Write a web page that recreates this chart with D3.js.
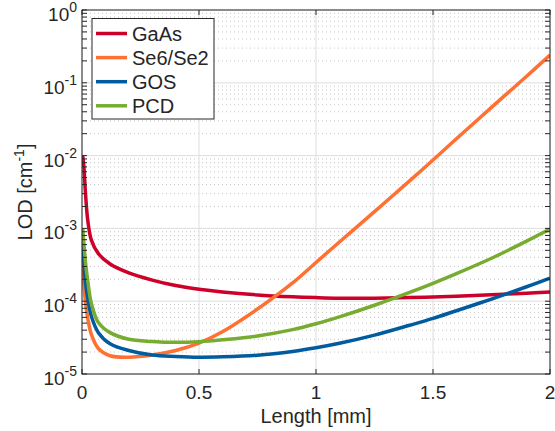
<!DOCTYPE html>
<meta charset="utf-8">
<script src="https://d3js.org/d3.v7.min.js"></script>
<style>
  body { margin: 0; background: #fff; }
  text { font-family: "Liberation Sans", Arial, Helvetica, sans-serif; fill: #262626; }
</style>
<div id="chart"></div>
<script>
// thickness in mm
var lengthMm = [0.003, 0.008, 0.015, 0.025, 0.04, 0.07, 0.12, 0.2, 0.3, 0.4, 0.5, 0.6, 0.75, 0.9, 1.0, 1.1, 1.25, 1.4, 1.5, 1.6, 1.75, 1.9, 2.0]

var gaas = [1.0e-2, 7.1e-3, 3.0e-3, 1.26e-3, 6.9e-4, 4.5e-4, 3.24e-4, 2.45e-4, 1.95e-4, 1.64e-4, 1.46e-4, 1.34e-4, 1.22e-4, 1.15e-4, 1.12e-4, 1.10e-4, 1.10e-4, 1.12e-4, 1.14e-4, 1.17e-4, 1.23e-4, 1.29e-4, 1.34e-4]
var se = [3.2e-4, 1.66e-4, 9.5e-5, 5.75e-5, 3.5e-5, 2.24e-5, 1.78e-5, 1.70e-5, 1.82e-5, 2.1e-5, 2.66e-5, 3.8e-5, 7.8e-5, 1.78e-4, 3.4e-4, 6.5e-4, 1.7e-3, 4.5e-3, 8.7e-3, 1.7e-2, 4.6e-2, 0.123, 0.24]
var gos = [6.3e-4, 3.4e-4, 1.78e-4, 1.07e-4, 6.2e-5, 3.7e-5, 2.6e-5, 2.1e-5, 1.82e-5, 1.74e-5, 1.70e-5, 1.72e-5, 1.81e-5, 2.04e-5, 2.29e-5, 2.64e-5, 3.42e-5, 4.67e-5, 5.8e-5, 7.4e-5, 1.07e-4, 1.58e-4, 2.08e-4]
var pcd = [1.0e-3, 6.3e-4, 3.4e-4, 1.86e-4, 9.3e-5, 5.1e-5, 3.7e-5, 3.0e-5, 2.8e-5, 2.72e-5, 2.78e-5, 2.95e-5, 3.33e-5, 4.07e-5, 4.9e-5, 6.1e-5, 8.8e-5, 1.32e-4, 1.76e-4, 2.39e-4, 3.89e-4, 6.7e-4, 9.8e-4]

var names = ["GaAs", "Se6/Se2", "GOS", "PCD"]
var colors = ["#cc0029", "#ff7033", "#005c9f", "#77ac30"]

var xTicks = [0, 0.5, 1, 1.5, 2]
var yExps = [-5, -4, -3, -2, -1, 0]

var width = 555, height = 431
var pl = 82, pr = 550, pt = 10, pb = 374

var svg = d3.select("#chart").append("svg")
    .attr("width", width)
    .attr("height", height)

var x = d3.scaleLinear().domain([0, 2]).range([pl, pr])
var y = d3.scaleLog().domain([1e-5, 1]).range([pb, pt])

// minor y values (2..9 in each decade)
var minorY = []
yExps.slice(0, -1).forEach(function(e) {
  for (var k = 2; k <= 9; k++) minorY.push(k * Math.pow(10, e))
})

var grid = svg.append("g")
grid.selectAll(".minor")
  .data(minorY)
  .enter().append("line")
    .attr("x1", pl).attr("x2", pr)
    .attr("y1", function(d) { return y(d) }).attr("y2", function(d) { return y(d) })
    .attr("stroke", "#b8b8b8")
    .attr("stroke-width", 0.8)
    .attr("stroke-dasharray", "1,3")
grid.selectAll(".majy")
  .data(yExps)
  .enter().append("line")
    .attr("x1", pl).attr("x2", pr)
    .attr("y1", function(d) { return y(Math.pow(10, d)) }).attr("y2", function(d) { return y(Math.pow(10, d)) })
    .attr("stroke", "#dedede")
    .attr("stroke-width", 1)
grid.selectAll(".majx")
  .data(xTicks)
  .enter().append("line")
    .attr("x1", function(d) { return x(d) }).attr("x2", function(d) { return x(d) })
    .attr("y1", pt).attr("y2", pb)
    .attr("stroke", "#dedede")
    .attr("stroke-width", 1)

// curves
svg.append("clipPath").attr("id", "clip")
  .append("rect").attr("x", pl).attr("y", pt).attr("width", pr - pl).attr("height", pb - pt)

var line = d3.line()
  .x(function(d) { return x(d[0]) })
  .y(function(d) { return y(d[1]) })
  .curve(d3.curveCatmullRom.alpha(0.5))

var series = [gaas, se, gos, pcd]
svg.append("g").attr("clip-path", "url(#clip)")
  .selectAll("path")
  .data(series)
  .enter().append("path")
    .attr("d", function(s) { return line(s.map(function(v, i) { return [lengthMm[i], v] })) })
    .attr("fill", "none")
    .attr("stroke", function(d, i) { return colors[i] })
    .attr("stroke-width", 3.5)

// ticks (inside, both sides)
var ax = svg.append("g").attr("stroke", "#262626").attr("stroke-width", 1)
var tl = 5
ax.selectAll(".xt")
  .data(xTicks)
  .enter().append("path")
    .attr("d", function(d) { return "M" + x(d) + "," + pb + "v" + (-tl) + "M" + x(d) + "," + pt + "v" + tl })
var allY = yExps.map(function(e) { return Math.pow(10, e) }).concat(minorY)
ax.selectAll(".yt")
  .data(allY)
  .enter().append("path")
    .attr("d", function(d) { return "M" + pl + "," + y(d) + "h" + tl + "M" + pr + "," + y(d) + "h" + (-tl) })
ax.append("rect")
  .attr("x", pl).attr("y", pt).attr("width", pr - pl).attr("height", pb - pt)
  .attr("fill", "none")

// tick labels
svg.selectAll(".xl")
  .data(xTicks)
  .enter().append("text")
    .attr("x", function(d) { return x(d) })
    .attr("y", 399)
    .attr("text-anchor", "middle")
    .style("font-size", "19px")
    .text(function(d) { return d })

var yl = svg.selectAll(".yl")
  .data(yExps)
  .enter().append("text")
    .attr("x", 77)
    .attr("y", function(d) { return y(Math.pow(10, d)) + 11 })
    .attr("text-anchor", "end")
    .style("font-size", "19px")
yl.append("tspan").text("10")
yl.append("tspan")
    .attr("dy", -9)
    .style("font-size", "14px")
    .text(function(d) { return d })

// axis titles
svg.append("text")
  .attr("x", (pl + pr) / 2)
  .attr("y", 423)
  .attr("text-anchor", "middle")
  .style("font-size", "20px")
  .text("Length [mm]")

var ylab = svg.append("text")
  .attr("transform", "translate(32," + ((pt + pb) / 2) + ") rotate(-90)")
  .attr("text-anchor", "middle")
  .style("font-size", "20px")
ylab.append("tspan").text("LOD [cm")
ylab.append("tspan").attr("dy", -8).style("font-size", "14px").text("-1")
ylab.append("tspan").attr("dy", 8).text("]")

// legend
var lg = svg.append("g")
lg.append("rect")
  .attr("x", 92).attr("y", 18.5).attr("width", 122).attr("height", 100.5)
  .attr("fill", "#fff")
  .attr("stroke", "#262626")
  .attr("stroke-width", 1)
var items = lg.selectAll(".item")
  .data(names)
  .enter().append("g")
    .attr("transform", function(d, i) { return "translate(0," + (33.5 + i * 24.1) + ")" })
items.append("line")
  .attr("x1", 96).attr("x2", 127)
  .attr("stroke", function(d, i) { return colors[i] })
  .attr("stroke-width", 3.5)
items.append("text")
  .attr("x", 132)
  .attr("y", 7)
  .style("font-size", "20px")
  .text(function(d) { return d })
</script>
